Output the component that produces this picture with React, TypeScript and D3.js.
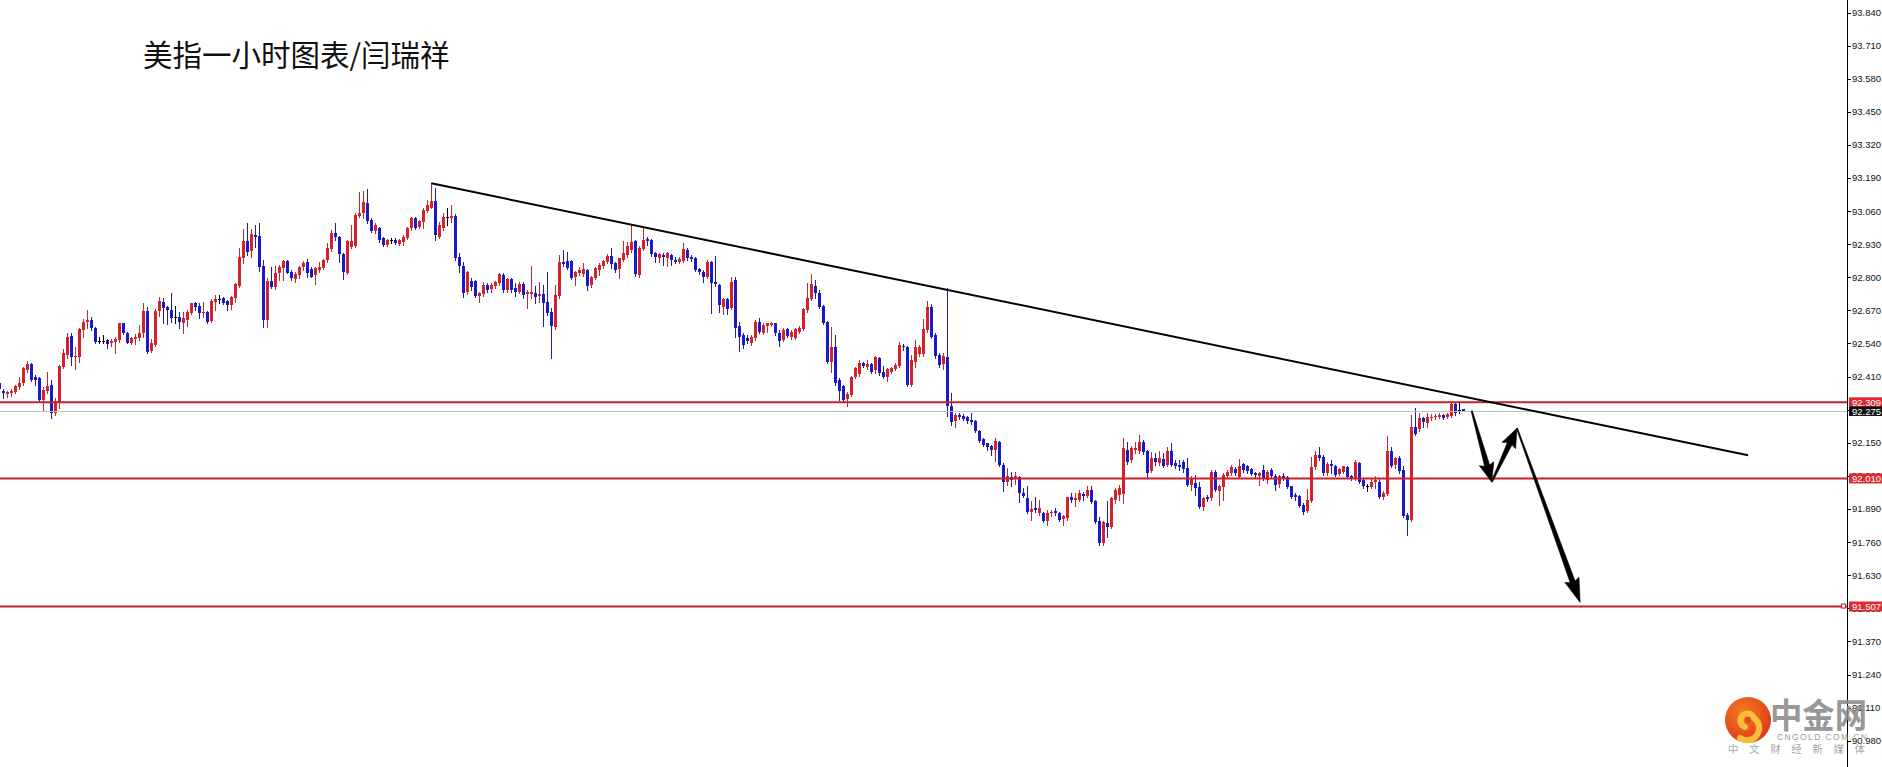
import React, { useEffect } from 'react';
import * as d3 from 'd3';

// ---- Data (USD index, 1h candles) ----
const opens = [
  92.386, 92.354, 92.342, 92.344, 92.350, 92.368, 92.384, 92.436, 92.458, 92.410,
  92.403, 92.318, 92.355, 92.377, 92.266, 92.312, 92.449, 92.495, 92.570, 92.486,
  92.488, 92.593, 92.626, 92.632, 92.602, 92.551, 92.551, 92.554, 92.541, 92.547,
  92.554, 92.619, 92.583, 92.541, 92.556, 92.560, 92.580, 92.669, 92.512, 92.534,
  92.669, 92.704, 92.685, 92.672, 92.643, 92.645, 92.622, 92.632, 92.659, 92.698,
  92.687, 92.659, 92.665, 92.630, 92.704, 92.716, 92.717, 92.708, 92.691, 92.717,
  92.766, 92.874, 92.943, 92.905, 92.966, 92.962, 92.844, 92.632, 92.787, 92.761,
  92.816, 92.835, 92.865, 92.822, 92.792, 92.809, 92.839, 92.861, 92.831, 92.809,
  92.829, 92.835, 92.868, 92.910, 92.975, 92.957, 92.892, 92.818, 92.918, 92.923,
  93.041, 93.051, 93.093, 93.025, 92.982, 92.995, 92.956, 92.927, 92.947, 92.947,
  92.930, 92.940, 92.956, 92.993, 93.032, 92.999, 93.019, 93.061, 93.074, 93.100,
  92.960, 92.993, 93.036, 93.034, 93.042, 92.881, 92.846, 92.741, 92.786, 92.786,
  92.728, 92.734, 92.768, 92.754, 92.764, 92.777, 92.809, 92.751, 92.794, 92.757,
  92.744, 92.775, 92.734, 92.736, 92.737, 92.728, 92.735, 92.702, 92.665, 92.603,
  92.728, 92.859, 92.864, 92.864, 92.803, 92.816, 92.812, 92.829, 92.768, 92.799,
  92.829, 92.846, 92.859, 92.885, 92.855, 92.833, 92.868, 92.888, 92.908, 92.943,
  92.809, 92.911, 92.951, 92.947, 92.894, 92.877, 92.888, 92.877, 92.888, 92.868,
  92.859, 92.864, 92.908, 92.881, 92.875, 92.833, 92.822, 92.803, 92.859, 92.783,
  92.768, 92.685, 92.715, 92.679, 92.790, 92.607, 92.574, 92.561, 92.541, 92.561,
  92.626, 92.581, 92.609, 92.613, 92.620, 92.583, 92.552, 92.596, 92.567, 92.561,
  92.587, 92.596, 92.670, 92.714, 92.764, 92.740, 92.688, 92.626, 92.469, 92.528,
  92.397, 92.374, 92.322, 92.339, 92.410, 92.421, 92.463, 92.447, 92.460, 92.434,
  92.482, 92.430, 92.408, 92.430, 92.439, 92.450, 92.531, 92.528, 92.378, 92.469,
  92.499, 92.499, 92.594, 92.685, 92.574, 92.496, 92.460, 92.486, 92.295, 92.234,
  92.260, 92.256, 92.251, 92.238, 92.234, 92.195, 92.164, 92.149, 92.136, 92.123,
  92.155, 92.064, 91.998, 92.015, 92.007, 92.015, 91.952, 91.933, 91.880, 91.894,
  91.874, 91.874, 91.841, 91.874, 91.883, 91.874, 91.850, 91.854, 91.939, 91.926,
  91.926, 91.950, 91.942, 91.963, 91.920, 91.841, 91.756, 91.835, 91.821, 91.926,
  91.946, 91.950, 92.122, 92.081, 92.122, 92.116, 92.155, 92.116, 92.041, 92.090,
  92.070, 92.086, 92.064, 92.116, 92.070, 92.064, 92.073, 92.050, 91.985, 91.992,
  91.976, 91.897, 91.939, 91.933, 92.037, 91.959, 91.976, 92.020, 92.031, 92.047,
  92.015, 92.067, 92.060, 92.047, 92.031, 92.020, 92.044, 92.005, 92.044, 92.020,
  91.989, 92.018, 92.015, 91.979, 91.946, 91.942, 91.906, 91.884, 91.920, 92.054,
  92.103, 92.096, 92.031, 92.067, 92.060, 92.028, 92.037, 92.054, 92.018, 92.007,
  92.070, 92.002, 91.979, 91.976, 91.998, 91.998, 91.937, 91.950, 92.116, 92.064,
  92.090, 92.044, 91.867, 91.845, 92.214, 92.204, 92.247, 92.227, 92.247, 92.251,
  92.253, 92.260, 92.253, 92.256, 92.303, 92.280, 92.282,
];
const highs = [
  92.397, 92.360, 92.355, 92.360, 92.377, 92.407, 92.449, 92.471, 92.465, 92.416,
  92.407, 92.371, 92.430, 92.397, 92.325, 92.456, 92.517, 92.583, 92.580, 92.528,
  92.600, 92.635, 92.672, 92.645, 92.606, 92.567, 92.573, 92.557, 92.557, 92.567,
  92.622, 92.622, 92.587, 92.567, 92.577, 92.611, 92.698, 92.685, 92.557, 92.674,
  92.721, 92.717, 92.687, 92.737, 92.687, 92.665, 92.665, 92.672, 92.700, 92.704,
  92.698, 92.704, 92.669, 92.714, 92.731, 92.731, 92.721, 92.711, 92.727, 92.776,
  92.914, 92.988, 93.015, 92.988, 93.005, 93.015, 92.868, 92.796, 92.839, 92.844,
  92.848, 92.868, 92.868, 92.829, 92.822, 92.844, 92.865, 92.871, 92.839, 92.839,
  92.861, 92.873, 92.933, 92.986, 93.015, 92.962, 92.897, 92.946, 93.005, 93.051,
  93.136, 93.140, 93.145, 93.032, 93.012, 92.999, 92.960, 92.951, 92.956, 92.953,
  92.951, 92.966, 92.999, 93.038, 93.038, 93.025, 93.071, 93.104, 93.169, 93.152,
  93.019, 93.052, 93.071, 93.084, 93.048, 92.894, 92.859, 92.825, 92.799, 92.790,
  92.744, 92.783, 92.777, 92.777, 92.786, 92.816, 92.816, 92.796, 92.799, 92.777,
  92.781, 92.781, 92.751, 92.846, 92.764, 92.783, 92.770, 92.822, 92.679, 92.770,
  92.888, 92.908, 92.898, 92.868, 92.825, 92.842, 92.855, 92.832, 92.807, 92.842,
  92.855, 92.868, 92.891, 92.917, 92.862, 92.877, 92.943, 92.940, 93.006, 92.947,
  92.921, 92.995, 92.960, 92.951, 92.901, 92.894, 92.894, 92.898, 92.891, 92.881,
  92.881, 92.934, 92.914, 92.888, 92.881, 92.836, 92.829, 92.868, 92.864, 92.885,
  92.773, 92.718, 92.720, 92.803, 92.803, 92.626, 92.581, 92.574, 92.574, 92.633,
  92.640, 92.620, 92.622, 92.626, 92.622, 92.594, 92.600, 92.600, 92.594, 92.600,
  92.607, 92.679, 92.777, 92.813, 92.790, 92.751, 92.692, 92.630, 92.604, 92.574,
  92.404, 92.378, 92.348, 92.413, 92.447, 92.476, 92.469, 92.476, 92.465, 92.492,
  92.486, 92.452, 92.443, 92.447, 92.463, 92.544, 92.539, 92.531, 92.496, 92.554,
  92.535, 92.636, 92.705, 92.696, 92.581, 92.502, 92.502, 92.757, 92.345, 92.267,
  92.267, 92.264, 92.256, 92.267, 92.240, 92.201, 92.168, 92.151, 92.142, 92.168,
  92.159, 92.070, 92.051, 92.034, 92.037, 92.020, 91.972, 91.979, 91.920, 91.939,
  91.926, 91.880, 91.887, 91.887, 91.894, 91.880, 91.867, 91.939, 91.952, 91.952,
  91.963, 91.955, 91.979, 91.981, 91.926, 91.858, 91.841, 91.920, 91.939, 91.972,
  91.985, 92.168, 92.155, 92.136, 92.155, 92.181, 92.162, 92.122, 92.112, 92.109,
  92.116, 92.109, 92.133, 92.151, 92.083, 92.081, 92.083, 92.090, 92.020, 92.024,
  91.998, 91.939, 91.946, 92.044, 92.044, 91.985, 92.031, 92.044, 92.064, 92.054,
  92.086, 92.070, 92.064, 92.050, 92.037, 92.037, 92.064, 92.044, 92.050, 92.028,
  92.024, 92.031, 92.020, 91.981, 91.952, 91.946, 91.913, 91.968, 92.096, 92.116,
  92.133, 92.103, 92.073, 92.083, 92.064, 92.050, 92.060, 92.060, 92.024, 92.083,
  92.073, 92.011, 91.989, 92.011, 92.018, 92.007, 91.959, 92.175, 92.133, 92.096,
  92.099, 92.057, 91.874, 92.260, 92.286, 92.266, 92.253, 92.269, 92.264, 92.264,
  92.266, 92.264, 92.266, 92.308, 92.306, 92.306, 92.282,
];
const lows = [
  92.351, 92.325, 92.331, 92.334, 92.344, 92.360, 92.377, 92.430, 92.394, 92.377,
  92.316, 92.279, 92.344, 92.246, 92.259, 92.286, 92.443, 92.482, 92.456, 92.439,
  92.469, 92.567, 92.600, 92.593, 92.543, 92.541, 92.541, 92.521, 92.532, 92.504,
  92.547, 92.577, 92.541, 92.537, 92.538, 92.554, 92.567, 92.501, 92.508, 92.530,
  92.648, 92.619, 92.617, 92.626, 92.619, 92.600, 92.583, 92.609, 92.656, 92.672,
  92.639, 92.643, 92.622, 92.626, 92.672, 92.698, 92.695, 92.672, 92.674, 92.704,
  92.761, 92.857, 92.888, 92.881, 92.920, 92.826, 92.604, 92.606, 92.757, 92.753,
  92.790, 92.790, 92.816, 92.790, 92.783, 92.796, 92.829, 92.800, 92.800, 92.774,
  92.822, 92.831, 92.861, 92.905, 92.946, 92.861, 92.795, 92.813, 92.914, 92.918,
  93.035, 93.032, 93.015, 92.977, 92.973, 92.940, 92.921, 92.921, 92.934, 92.930,
  92.925, 92.925, 92.951, 92.986, 92.990, 92.995, 92.993, 93.055, 93.071, 92.945,
  92.953, 92.986, 93.006, 93.019, 92.868, 92.822, 92.724, 92.733, 92.751, 92.724,
  92.702, 92.728, 92.744, 92.744, 92.757, 92.770, 92.744, 92.744, 92.741, 92.728,
  92.737, 92.718, 92.681, 92.718, 92.698, 92.702, 92.607, 92.652, 92.482, 92.597,
  92.720, 92.846, 92.833, 92.794, 92.770, 92.809, 92.807, 92.751, 92.760, 92.794,
  92.809, 92.836, 92.855, 92.836, 92.820, 92.796, 92.864, 92.881, 92.901, 92.807,
  92.803, 92.908, 92.927, 92.885, 92.862, 92.859, 92.849, 92.846, 92.849, 92.855,
  92.855, 92.859, 92.868, 92.864, 92.825, 92.812, 92.783, 92.799, 92.659, 92.764,
  92.665, 92.655, 92.655, 92.676, 92.567, 92.509, 92.522, 92.541, 92.535, 92.554,
  92.581, 92.578, 92.587, 92.607, 92.574, 92.531, 92.548, 92.565, 92.557, 92.557,
  92.583, 92.594, 92.662, 92.709, 92.718, 92.679, 92.617, 92.463, 92.430, 92.378,
  92.319, 92.316, 92.293, 92.332, 92.404, 92.413, 92.447, 92.439, 92.424, 92.426,
  92.417, 92.404, 92.391, 92.424, 92.434, 92.447, 92.515, 92.374, 92.374, 92.447,
  92.492, 92.492, 92.587, 92.561, 92.482, 92.447, 92.439, 92.256, 92.221, 92.211,
  92.243, 92.238, 92.227, 92.225, 92.191, 92.155, 92.136, 92.123, 92.103, 92.077,
  92.057, 91.959, 91.985, 91.979, 91.989, 91.916, 91.937, 91.874, 91.848, 91.880,
  91.867, 91.837, 91.828, 91.861, 91.867, 91.841, 91.828, 91.848, 91.916, 91.903,
  91.920, 91.926, 91.937, 91.913, 91.835, 91.750, 91.750, 91.780, 91.815, 91.913,
  91.926, 91.913, 92.068, 92.073, 92.109, 92.109, 92.107, 92.015, 92.037, 92.064,
  92.064, 92.054, 92.057, 92.057, 92.050, 92.044, 92.037, 91.979, 91.965, 91.946,
  91.893, 91.887, 91.920, 91.924, 91.959, 91.907, 91.926, 92.015, 92.024, 92.024,
  92.011, 92.037, 92.033, 92.024, 92.015, 91.985, 92.002, 91.994, 92.011, 91.965,
  91.976, 92.002, 91.972, 91.933, 91.926, 91.897, 91.871, 91.880, 91.916, 92.047,
  92.083, 92.024, 92.024, 92.031, 92.020, 92.023, 92.031, 92.011, 92.002, 92.002,
  91.994, 91.972, 91.959, 91.972, 91.972, 91.933, 91.929, 91.946, 92.054, 92.050,
  92.033, 91.858, 91.789, 91.841, 92.181, 92.198, 92.211, 92.214, 92.240, 92.243,
  92.247, 92.243, 92.247, 92.253, 92.260, 92.266, 92.273,
];
const closes = [
  92.360, 92.344, 92.350, 92.355, 92.373, 92.386, 92.443, 92.458, 92.397, 92.397,
  92.318, 92.358, 92.373, 92.266, 92.316, 92.452, 92.501, 92.567, 92.488, 92.491,
  92.596, 92.626, 92.632, 92.600, 92.547, 92.549, 92.547, 92.538, 92.550, 92.558,
  92.619, 92.583, 92.543, 92.560, 92.564, 92.580, 92.669, 92.508, 92.543, 92.669,
  92.708, 92.678, 92.672, 92.639, 92.639, 92.626, 92.639, 92.665, 92.698, 92.682,
  92.661, 92.664, 92.626, 92.708, 92.716, 92.714, 92.700, 92.691, 92.724, 92.772,
  92.878, 92.943, 92.901, 92.970, 92.960, 92.842, 92.632, 92.787, 92.761, 92.818,
  92.839, 92.865, 92.818, 92.796, 92.813, 92.839, 92.857, 92.818, 92.803, 92.835,
  92.839, 92.868, 92.914, 92.975, 92.957, 92.892, 92.822, 92.944, 92.944, 93.045,
  93.051, 93.097, 93.022, 92.982, 93.006, 92.947, 92.925, 92.947, 92.943, 92.934,
  92.947, 92.960, 92.995, 93.034, 92.995, 93.021, 93.065, 93.082, 93.100, 92.966,
  93.006, 93.038, 93.032, 93.042, 92.877, 92.846, 92.737, 92.820, 92.760, 92.728,
  92.737, 92.768, 92.751, 92.768, 92.781, 92.812, 92.751, 92.794, 92.751, 92.744,
  92.774, 92.731, 92.744, 92.744, 92.724, 92.736, 92.698, 92.659, 92.607, 92.731,
  92.859, 92.851, 92.838, 92.796, 92.822, 92.829, 92.833, 92.764, 92.803, 92.836,
  92.849, 92.864, 92.885, 92.851, 92.829, 92.875, 92.894, 92.921, 92.940, 92.812,
  92.917, 92.947, 92.943, 92.891, 92.881, 92.891, 92.881, 92.894, 92.868, 92.862,
  92.872, 92.911, 92.877, 92.872, 92.829, 92.820, 92.803, 92.859, 92.777, 92.773,
  92.692, 92.715, 92.676, 92.783, 92.600, 92.567, 92.535, 92.548, 92.567, 92.626,
  92.587, 92.613, 92.620, 92.622, 92.581, 92.548, 92.594, 92.570, 92.587, 92.596,
  92.600, 92.675, 92.718, 92.772, 92.738, 92.683, 92.620, 92.469, 92.528, 92.384,
  92.352, 92.319, 92.342, 92.410, 92.443, 92.465, 92.452, 92.460, 92.430, 92.486,
  92.424, 92.408, 92.439, 92.443, 92.456, 92.535, 92.526, 92.378, 92.476, 92.528,
  92.528, 92.596, 92.685, 92.567, 92.492, 92.456, 92.492, 92.293, 92.230, 92.260,
  92.251, 92.243, 92.234, 92.230, 92.195, 92.159, 92.142, 92.133, 92.123, 92.159,
  92.064, 91.998, 92.018, 92.005, 92.020, 91.952, 91.942, 91.880, 91.890, 91.887,
  91.894, 91.841, 91.874, 91.880, 91.874, 91.848, 91.861, 91.937, 91.924, 91.933,
  91.952, 91.942, 91.963, 91.916, 91.837, 91.756, 91.837, 91.819, 91.933, 91.965,
  91.972, 92.129, 92.073, 92.129, 92.129, 92.155, 92.112, 92.033, 92.090, 92.073,
  92.090, 92.060, 92.116, 92.064, 92.060, 92.054, 92.047, 91.985, 92.011, 91.972,
  91.897, 91.933, 91.929, 92.037, 91.965, 91.979, 92.024, 92.037, 92.054, 92.031,
  92.057, 92.044, 92.041, 92.028, 92.023, 92.033, 92.007, 92.037, 92.018, 91.985,
  92.020, 92.007, 91.976, 91.939, 91.937, 91.903, 91.880, 91.926, 92.054, 92.103,
  92.090, 92.031, 92.067, 92.057, 92.024, 92.047, 92.057, 92.015, 92.010, 92.073,
  91.998, 91.979, 91.976, 91.998, 92.005, 91.939, 91.952, 92.116, 92.060, 92.090,
  92.041, 91.863, 91.845, 92.214, 92.185, 92.247, 92.230, 92.251, 92.253, 92.256,
  92.260, 92.247, 92.264, 92.303, 92.269, 92.277, 92.275,
];

const tickValues = [
  93.84, 93.71, 93.58, 93.45, 93.32, 93.19, 93.06, 92.93, 92.8, 92.67, 92.54, 92.41,
  92.28, 92.15, 92.02, 91.89, 91.76, 91.63, 91.5, 91.37, 91.24, 91.11, 90.98,
];
const levelPrices = [92.309, 92.01, 91.507];
const bidPrice = 92.275;
// trend line: [bar index, price]
const trendStart = [108, 93.169];
const trendEnd = [437.2, 92.101];
// forecast arrows: [bar index, price]
const arrowStarts = [[368.1, 92.275], [373.1, 91.996], [379.4, 92.207]];
const arrowEnds = [[373.1, 91.996], [379.4, 92.207], [395.2, 91.523]];
const arrowHeads = [17, 17, 22];

const titleText = '美指一小时图表/闫瑞祥';

const W = 1882;
const H = 767;
const AXIS_X = 1847;
const UP = '#d2232a';
const DOWN = '#1a1ac4';
const DOJI = '#000000';
const LEVEL = '#c8202a';

const x = d3.scaleLinear().domain([0, opens.length - 1]).range([-0.67, 1463.33]);
const y = d3.scaleLinear().domain([93.84, 90.98]).range([12.5, 740.7]);
const fmt = d3.format('.3f');

function arrowPoints(x1: number, y1: number, x2: number, y2: number, hl: number) {
  const dx = x2 - x1, dy = y2 - y1;
  const L = Math.hypot(dx, dy);
  const ux = dx / L, uy = dy / L;
  const nx = -uy, ny = ux;
  const bx = x2 - ux * hl, by = y2 - uy * hl;
  const t0 = 0.6, t1 = 2.6, hw = 7.5;
  const pts = [
    [x1 + nx * t0, y1 + ny * t0],
    [bx + nx * t1, by + ny * t1],
    [bx + nx * hw - ux * 2, by + ny * hw - uy * 2],
    [x2, y2],
    [bx - nx * hw - ux * 2, by - ny * hw - uy * 2],
    [bx - nx * t1, by - ny * t1],
    [x1 - nx * t0, y1 - ny * t0],
  ];
  return pts.map((p) => p.join(',')).join(' ');
}

export default function App() {
  useEffect(() => {
    document.body.style.margin = '0';
  }, []);

  const candles = d3.range(opens.length).map((i) => ({
    i, o: opens[i], h: highs[i], l: lows[i], c: closes[i],
  }));

  const axisFont = '"Liberation Sans", Arial, sans-serif';
  const cjk = '"Noto Sans CJK SC", "Noto Sans", sans-serif';

  return (
    <div style={{ position: 'absolute', left: 0, top: 0 }}>
      <svg width={W} height={H} viewBox={`0 0 ${W} ${H}`} xmlns="http://www.w3.org/2000/svg">
        <defs>
          <clipPath id="plot">
            <rect x={0} y={0} width={AXIS_X} height={H} />
          </clipPath>
          <radialGradient id="logoGrad" cx="0.4" cy="0.35" r="0.75">
            <stop offset="0" stopColor="#f4821f" />
            <stop offset="1" stopColor="#d9301a" />
          </radialGradient>
        </defs>
        <rect x={0} y={0} width={W} height={H} fill="#ffffff" />

        {/* candles */}
        <g clipPath="url(#plot)" shapeRendering="crispEdges">
          {candles.map((d) => {
            const cx = Math.round(x(d.i));
            const diff = d.c - d.o;
            const doji = Math.abs(diff) < 0.0045;
            const col = doji ? DOJI : diff > 0 ? UP : DOWN;
            const bt = Math.round(y(Math.max(d.o, d.c)));
            const bb = Math.max(Math.round(y(Math.min(d.o, d.c))), bt + 1);
            return (
              <g key={d.i}>
                <line x1={cx + 0.5} x2={cx + 0.5} y1={Math.round(y(d.h))} y2={Math.round(y(d.l)) + 1} stroke={col} strokeWidth={1} />
                {doji ? (
                  <rect x={cx - 1} y={bt} width={3} height={1} fill={col} />
                ) : (
                  <rect x={cx - 1} y={bt} width={3} height={bb - bt} fill={col} />
                )}
              </g>
            );
          })}
        </g>

        {/* bid line */}
        <line x1={0} x2={AXIS_X} y1={Math.round(y(bidPrice)) + 0.5} y2={Math.round(y(bidPrice)) + 0.5} stroke="#b8c4b8" strokeWidth={1} />

        {/* horizontal levels */}
        {levelPrices.map((p) => (
          <line key={p} x1={0} x2={AXIS_X} y1={y(p)} y2={y(p)} stroke={LEVEL} strokeWidth={2} />
        ))}

        {/* trend line */}
        <line
          x1={x(trendStart[0])} y1={y(trendStart[1])}
          x2={x(trendEnd[0])} y2={y(trendEnd[1])}
          stroke="#000" strokeWidth={2}
        />

        {/* arrows */}
        {arrowStarts.map((s, k) => (
          <polygon
            key={k}
            points={arrowPoints(x(s[0]), y(s[1]), x(arrowEnds[k][0]), y(arrowEnds[k][1]), arrowHeads[k])}
            fill="#000"
            stroke="#000"
            strokeWidth={0.6}
            strokeLinejoin="miter"
          />
        ))}

        {/* price axis */}
        <line x1={AXIS_X + 0.5} x2={AXIS_X + 0.5} y1={0} y2={H} stroke="#000" strokeWidth={1} />
        {tickValues.map((v) => {
          const ty = Math.round(y(v)) + 0.5;
          return (
            <g key={v}>
              <line x1={AXIS_X} x2={AXIS_X + 4} y1={ty} y2={ty} stroke="#000" strokeWidth={1} />
              <text x={1852} y={y(v) + 3.4} fontFamily={axisFont} fontSize={9.5} fill="#111">{fmt(v)}</text>
            </g>
          );
        })}

        {/* level price boxes */}
        {levelPrices.map((p) => (
          <g key={'b' + p}>
            <rect x={1849} y={y(p) - 5} width={33} height={10} fill="#dd2a30" />
            <text x={1852} y={y(p) + 3.4} fontFamily={axisFont} fontSize={9.5} fill="#fff">{fmt(p)}</text>
          </g>
        ))}
        <rect x={1841.5} y={y(levelPrices[2]) - 2.5} width={4} height={4} fill="#fff" stroke={LEVEL} strokeWidth={1} />
        <g>
          <rect x={1849} y={y(bidPrice) - 4.5} width={33} height={9.5} fill="#111" />
          <text x={1852} y={y(bidPrice) + 3.6} fontFamily={axisFont} fontSize={9.5} fill="#fff">{fmt(bidPrice)}</text>
        </g>

        {/* title */}
        <text x={143} y={66} fontFamily={cjk} fontSize={29.5} fill="#111">{titleText}</text>

        {/* watermark logo */}
        <g>
          <circle cx={1748} cy={720} r={23} fill="url(#logoGrad)" />
          <path
            d="M 1745 727 A 7 7 0 1 1 1754 718 A 12 12 0 0 1 1740 738"
            fill="none" stroke="#f8bd3a" strokeWidth={6} strokeLinecap="round"
          />
          <circle cx={1748} cy={720} r={3} fill="#e0461c" />
          <text x={1770} y={728} fontFamily={cjk} fontWeight={700} fontSize={34} fill="#8a8a8a" fillOpacity={0.9}
            textLength={97} lengthAdjust="spacingAndGlyphs">中金网</text>
          <text x={1777} y={739.5} fontFamily={axisFont} fontSize={8.5} fill="#9a9a9a"
            textLength={90} lengthAdjust="spacing">CNGOLD.COM.CN</text>
          <text x={1728} y={753} fontFamily={cjk} fontSize={10.5} fill="#a6a6a6"
            textLength={137} lengthAdjust="spacing">中文财经新媒体</text>
        </g>
      </svg>
    </div>
  );
}
